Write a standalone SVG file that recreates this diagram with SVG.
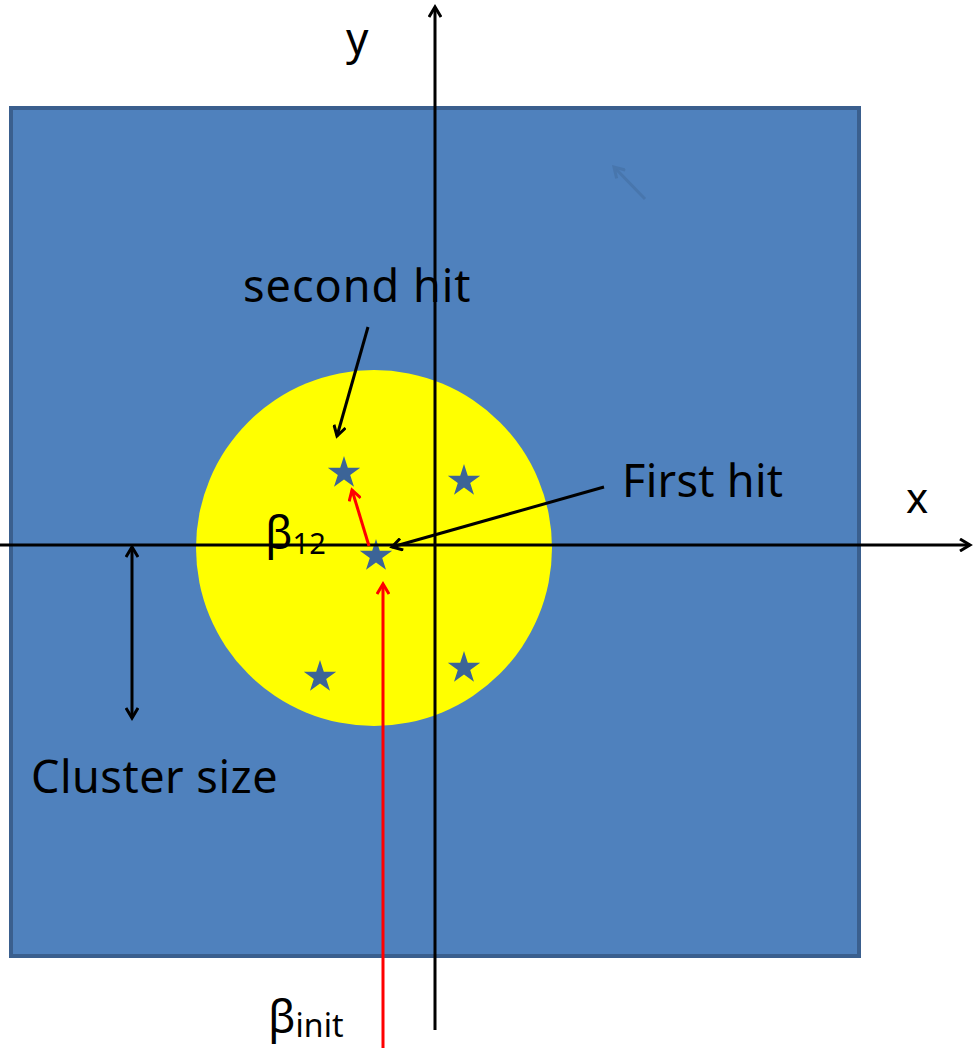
<svg xmlns="http://www.w3.org/2000/svg" width="973" height="1048" viewBox="0 0 973 1048">
<defs>
<style>
.t{font-family:"Noto Sans","Open Sans","DejaVu Sans",sans-serif;fill:#000}
.ax{stroke:#000;stroke-width:3;fill:none}
.red{stroke:#ff0000;stroke-width:3;fill:none}
.star{fill:#3c6497}
</style>
<marker id="ab" markerWidth="14" markerHeight="14" refX="11" refY="7" orient="auto-start-reverse" markerUnits="userSpaceOnUse" viewBox="0 0 14 14">
<path d="M1,1 L11,7 L1,13" fill="none" stroke="#000" stroke-width="3"/>
</marker>
<marker id="ar" markerWidth="14" markerHeight="14" refX="11" refY="7" orient="auto" markerUnits="userSpaceOnUse" viewBox="0 0 14 14">
<path d="M1,1 L11,7 L1,13" fill="none" stroke="#ff0000" stroke-width="3"/>
</marker>
<marker id="af" markerWidth="14" markerHeight="14" refX="11" refY="7" orient="auto" markerUnits="userSpaceOnUse" viewBox="0 0 14 14">
<path d="M1,1 L11,7 L1,13" fill="none" stroke="#4876ad" stroke-width="3"/>
</marker>
<polygon id="st" points="0,-17 3.8,-5.2 16.2,-5.2 6.2,2 10,13.8 0,6.5 -10,13.8 -6.2,2 -16.2,-5.2 -3.8,-5.2"/>
</defs>
<rect width="973" height="1048" fill="#fff"/>
<g id="square">
<rect x="11" y="108" width="848" height="848" fill="#4f81bd" stroke="#3a5f8e" stroke-width="4"/>
</g>
<g id="cluster">
<circle cx="374" cy="548" r="178" fill="#ffff00"/>
</g>
<g id="stars">
<use href="#st" class="star" x="344" y="473"/>
<use href="#st" class="star" x="464" y="481"/>
<use href="#st" class="star" x="376" y="556"/>
<use href="#st" class="star" x="320" y="677"/>
<use href="#st" class="star" x="464" y="668"/>
</g>
<g id="connectors">
<line class="ax" x1="0" y1="545" x2="970" y2="545" marker-end="url(#ab)"/>
<line class="ax" x1="435" y1="1030" x2="435" y2="7" marker-end="url(#ab)"/>
<line class="ax" x1="132" y1="547" x2="132" y2="718" marker-start="url(#ab)" marker-end="url(#ab)"/>
<line class="ax" x1="604" y1="487" x2="392" y2="547" marker-end="url(#ab)"/>
<line class="ax" x1="368" y1="327" x2="337" y2="436" marker-end="url(#ab)"/>
<line class="red" x1="369" y1="546" x2="352" y2="490" marker-end="url(#ar)"/>
<line class="red" x1="383" y1="1048" x2="383" y2="584" marker-end="url(#ar)"/>
<line x1="645" y1="199" x2="614" y2="167" stroke="#4876ad" stroke-width="3" marker-end="url(#af)"/>
</g>
<g id="labels">
<text class="t" x="346" y="54" font-size="44">y</text>
<text class="t" x="906" y="513" font-size="42">x</text>
<text class="t" x="243" y="302" font-size="45" letter-spacing="1">second hit</text>
<text class="t" x="622" y="497" font-size="45" letter-spacing="0.3">First hit</text>
<text class="t" x="265" y="549" font-size="45">β<tspan font-size="29" dy="5">12</tspan></text>
<text class="t" x="31" y="793" font-size="45" letter-spacing="0.5">Cluster size</text>
<text class="t" x="268" y="1033" font-size="45">β<tspan font-size="32" dy="4">init</tspan></text>
</g>
</svg>
